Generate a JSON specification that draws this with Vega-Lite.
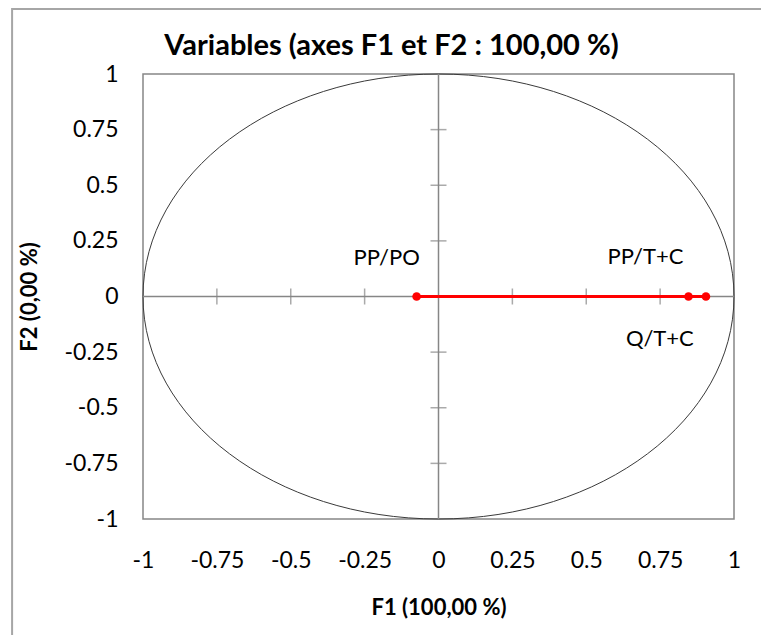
{
  "$schema": "https://vega.github.io/schema/vega-lite/v6.json",
  "width": 591,
  "height": 445,
  "autosize": {"type": "none"},
  "padding": {"left": 143, "top": 74, "right": 27, "bottom": 116},
  "background": "white",
  "config": {
    "font": "Lato",
    "view": {"stroke": "#868686", "strokeWidth": 1.5},
    "axis": {
      "domain": false,
      "ticks": false,
      "grid": false,
      "labelFont": "Lato",
      "labelFontSize": 23,
      "labelColor": "#000000",
      "labelOverlap": false,
      "titleFont": "Lato",
      "titleFontSize": 22,
      "titleFontWeight": "bold",
      "titleColor": "#000000"
    },
    "axisX": {"labelPadding": 30, "titlePadding": 25, "labelFlush": false},
    "axisY": {"labelPadding": 25, "titlePadding": 23}
  },
  "title": {
    "text": "Variables (axes F1 et F2 : 100,00 %)",
    "font": "Lato",
    "fontSize": 29,
    "fontWeight": "bold",
    "color": "#000000",
    "anchor": "middle",
    "frame": "group",
    "dx": -47,
    "offset": -53
  },
  "datasets": {
    "variables": [
      {"variable": "PP/PO", "F1": -0.074, "F2": 0},
      {"variable": "PP/T+C", "F1": 0.846, "F2": 0},
      {"variable": "Q/T+C", "F1": 0.905, "F2": 0}
    ],
    "xticks": [{"F1": -0.75}, {"F1": -0.5}, {"F1": -0.25}, {"F1": 0.25}, {"F1": 0.5}, {"F1": 0.75}],
    "yticks": [{"F2": -0.75}, {"F2": -0.5}, {"F2": -0.25}, {"F2": 0.25}, {"F2": 0.5}, {"F2": 0.75}]
  },
  "layer": [
    {
      "data": {"values": [{}]},
      "mark": {"type": "rect", "fill": null, "filled": false, "stroke": "#a6a6a6", "strokeWidth": 2, "clip": false},
      "encoding": {
        "x": {"datum": -1.443, "type": "quantitative", "scale": {"domain": [-1, 1], "nice": false, "zero": false}, "title": "F1 (100,00 %)", "axis": {"values": [-1, -0.75, -0.5, -0.25, 0, 0.25, 0.5, 0.75, 1], "labelExpr": "'' + datum.value"}},
        "x2": {"datum": 1.1},
        "y": {"datum": 1.292, "type": "quantitative", "scale": {"domain": [-1, 1], "nice": false, "zero": false}, "title": "F2 (0,00 %)", "axis": {"values": [-1, -0.75, -0.5, -0.25, 0, 0.25, 0.5, 0.75, 1], "labelExpr": "'' + datum.value"}},
        "y2": {"datum": -1.54}
      }
    },
    {
      "data": {"values": [{}]},
      "mark": {"type": "point", "shape": "M-1,0A1,0.753,0,1,1,1,0A1,0.753,0,1,1,-1,0Z", "size": 349281, "filled": false, "stroke": "#3a3a3a", "strokeWidth": 1, "opacity": 1},
      "encoding": {
        "x": {"datum": 0, "type": "quantitative", "scale": {"domain": [-1, 1], "nice": false, "zero": false}, "title": "F1 (100,00 %)"},
        "y": {"datum": 0, "type": "quantitative", "scale": {"domain": [-1, 1], "nice": false, "zero": false}, "title": "F2 (0,00 %)"}
      }
    },
    {
      "data": {"values": [{}]},
      "mark": {"type": "rule", "color": "#868686", "strokeWidth": 1.5},
      "encoding": {
        "x": {"datum": 0, "type": "quantitative", "scale": {"domain": [-1, 1], "nice": false, "zero": false}, "title": "F1 (100,00 %)"}
      }
    },
    {
      "data": {"values": [{}]},
      "mark": {"type": "rule", "color": "#868686", "strokeWidth": 1.5},
      "encoding": {
        "y": {"datum": 0, "type": "quantitative", "scale": {"domain": [-1, 1], "nice": false, "zero": false}, "title": "F2 (0,00 %)"}
      }
    },
    {
      "data": {"name": "xticks"},
      "mark": {"type": "tick", "orient": "vertical", "color": "#868686", "size": 16, "thickness": 1.5},
      "encoding": {
        "x": {"field": "F1", "type": "quantitative", "scale": {"domain": [-1, 1], "nice": false, "zero": false}, "title": "F1 (100,00 %)"},
        "y": {"datum": 0, "type": "quantitative", "scale": {"domain": [-1, 1], "nice": false, "zero": false}, "title": "F2 (0,00 %)"}
      }
    },
    {
      "data": {"name": "yticks"},
      "mark": {"type": "tick", "orient": "horizontal", "color": "#868686", "size": 16, "thickness": 1.5},
      "encoding": {
        "x": {"datum": 0, "type": "quantitative", "scale": {"domain": [-1, 1], "nice": false, "zero": false}, "title": "F1 (100,00 %)"},
        "y": {"field": "F2", "type": "quantitative", "scale": {"domain": [-1, 1], "nice": false, "zero": false}, "title": "F2 (0,00 %)"}
      }
    },
    {
      "data": {"name": "variables"},
      "mark": {"type": "rule", "color": "#ff0000", "strokeWidth": 3},
      "encoding": {
        "x": {"field": "F1", "type": "quantitative", "scale": {"domain": [-1, 1], "nice": false, "zero": false}, "title": "F1 (100,00 %)"},
        "x2": {"datum": 0},
        "y": {"field": "F2", "type": "quantitative", "scale": {"domain": [-1, 1], "nice": false, "zero": false}, "title": "F2 (0,00 %)"}
      }
    },
    {
      "data": {"name": "variables"},
      "mark": {"type": "circle", "color": "#ff0000", "size": 75, "opacity": 1},
      "encoding": {
        "x": {"field": "F1", "type": "quantitative", "scale": {"domain": [-1, 1], "nice": false, "zero": false}, "title": "F1 (100,00 %)"},
        "y": {"field": "F2", "type": "quantitative", "scale": {"domain": [-1, 1], "nice": false, "zero": false}, "title": "F2 (0,00 %)"}
      }
    },
    {
      "data": {"name": "variables"},
      "transform": [{"filter": "datum.variable == 'PP/PO'"}],
      "mark": {"type": "text", "font": "Lato", "fontSize": 22, "color": "#000000", "align": "center", "baseline": "middle", "dx": -30, "dy": -39},
      "encoding": {
        "x": {"field": "F1", "type": "quantitative", "scale": {"domain": [-1, 1], "nice": false, "zero": false}, "title": "F1 (100,00 %)"},
        "y": {"field": "F2", "type": "quantitative", "scale": {"domain": [-1, 1], "nice": false, "zero": false}, "title": "F2 (0,00 %)"},
        "text": {"field": "variable"}
      }
    },
    {
      "data": {"name": "variables"},
      "transform": [{"filter": "datum.variable == 'PP/T+C'"}],
      "mark": {"type": "text", "font": "Lato", "fontSize": 22, "color": "#000000", "align": "center", "baseline": "middle", "dx": -43, "dy": -40},
      "encoding": {
        "x": {"field": "F1", "type": "quantitative", "scale": {"domain": [-1, 1], "nice": false, "zero": false}, "title": "F1 (100,00 %)"},
        "y": {"field": "F2", "type": "quantitative", "scale": {"domain": [-1, 1], "nice": false, "zero": false}, "title": "F2 (0,00 %)"},
        "text": {"field": "variable"}
      }
    },
    {
      "data": {"name": "variables"},
      "transform": [{"filter": "datum.variable == 'Q/T+C'"}],
      "mark": {"type": "text", "font": "Lato", "fontSize": 22, "color": "#000000", "align": "center", "baseline": "middle", "dx": -46, "dy": 42},
      "encoding": {
        "x": {"field": "F1", "type": "quantitative", "scale": {"domain": [-1, 1], "nice": false, "zero": false}, "title": "F1 (100,00 %)"},
        "y": {"field": "F2", "type": "quantitative", "scale": {"domain": [-1, 1], "nice": false, "zero": false}, "title": "F2 (0,00 %)"},
        "text": {"field": "variable"}
      }
    }
  ]
}
